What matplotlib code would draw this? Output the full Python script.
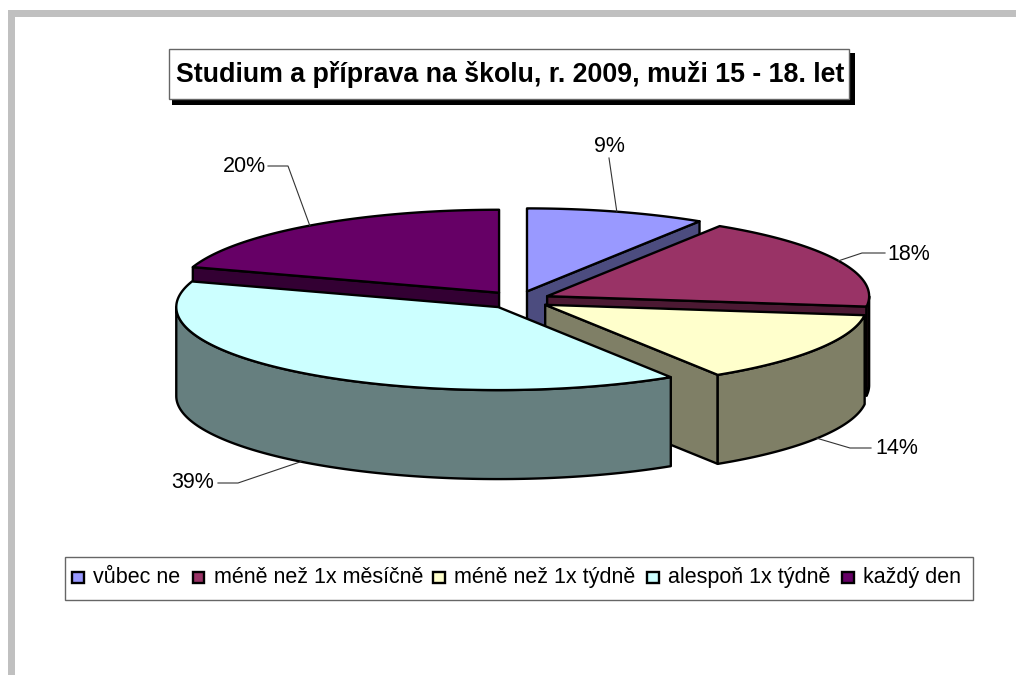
import numpy as np
import matplotlib
matplotlib.use('Agg')
import matplotlib.pyplot as plt
from matplotlib.patches import Rectangle

plt.rcParams['font.family'] = ['Liberation Sans', 'DejaVu Sans']

# data
title = 'Studium a příprava na školu, r. 2009, muži 15 - 18. let'
categories = ['vůbec ne', 'méně než 1x měsíčně', 'méně než 1x týdně', 'alespoň 1x týdně', 'každý den']
values = [9, 18, 14, 39, 20]
top_colors = ['#9999FF', '#993366', '#FFFFCC', '#CCFFFF', '#660066']
side_colors = ['#4C4C7F', '#4C1933', '#7F7F66', '#667F7F', '#330033']

# layout, pixels
cx, cy = 518, 300
rx, ry = 322, 83
depth = 89
explode = 0.1
label_pos = [(609, 152), (909, 260), (897, 454), (193, 488), (244, 172)]
elbow_pos = [(609, 158), (862, 253), (850, 448), (238, 483), (288, 166)]
line_end = [(609, 158), (885, 253), (871, 448), (218, 483), (268, 166)]
legend_x = [72, 192.5, 433, 647, 842]

fig = plt.figure(figsize=(10.16, 6.75), dpi=100)
ax = fig.add_axes([0, 0, 1, 1])
ax.set_xlim(0, 1016)
ax.set_ylim(675, 0)
ax.axis('off')

# grey frame of the sheet
ax.add_patch(Rectangle((8, 10), 1008, 7, fc='#C0C0C0', ec='none'))
ax.add_patch(Rectangle((8, 10), 7, 665, fc='#C0C0C0', ec='none'))

def rim(ox, oy, a):
    # angle runs clockwise from 12 o'clock
    return ox + rx * np.sin(a), oy - ry * np.cos(a)

def face(pts, color, z):
    ax.fill(*zip(*pts), fc=color, ec='black', lw=1.7, joinstyle='round', zorder=z)

total = sum(values)
edges = np.cumsum([0] + values) / total * 2 * np.pi

# back slices first so the front ones cover them
order = [4, 0, 1, 2, 3]
for n, i in enumerate(order):
    a0, a1 = edges[i], edges[i + 1]
    mid = (a0 + a1) / 2
    ox = cx + explode * rx * np.sin(mid)
    oy = cy - explode * ry * 1.08 * np.cos(mid)
    z = 3 + n

    # flat side faces, only those turned to the viewer
    for a, normal in ((a0, a0 - np.pi / 2), (a1, a1 + np.pi / 2)):
        if np.cos(normal) < 0:
            p = rim(ox, oy, a)
            face([(ox, oy), p, (p[0], p[1] + depth), (ox, oy + depth)], side_colors[i], z)

    # outer wall of the near half
    lo, hi = max(a0, np.pi / 2), min(a1, 3 * np.pi / 2)
    if hi > lo:
        t = np.linspace(lo, hi, 120)
        xs, ys = rim(ox, oy, t)
        face(list(zip(xs, ys)) + list(zip(xs[::-1], ys[::-1] + depth)), side_colors[i], z)

    # top
    t = np.linspace(a0, a1, 160)
    xs, ys = rim(ox, oy, t)
    face([(ox, oy)] + list(zip(xs, ys)), top_colors[i], z)

    # leader line and label
    ax_, ay_ = rim(ox, oy, mid)
    if np.cos(mid) < 0:
        ay_ += depth
    ex, ey = elbow_pos[i]
    lx, ly = line_end[i]
    ax.plot([ax_, ex, lx], [ay_, ey, ly], color='#333333', lw=0.8, zorder=20)
    ax.text(*label_pos[i], f'{values[i]}%', fontsize=15.5, ha='center', va='baseline', zorder=21)

# title box with shadow
ax.add_patch(Rectangle((172, 53), 683, 52, fc='black', ec='none', zorder=1))
ax.add_patch(Rectangle((168.5, 48.5), 680, 50.5, fc='white', ec='#666666', lw=1, zorder=2))
ax.text(510.5, 81.5, title, fontsize=19.3, fontweight='bold', ha='center', va='baseline', zorder=3)

# legend
ax.add_patch(Rectangle((65, 557), 908, 42.5, fc='white', ec='#666666', lw=1, zorder=2))
for x, name, color in zip(legend_x, categories, top_colors):
    ax.add_patch(Rectangle((x, 571.5), 11.5, 11.5, fc=color, ec='black', lw=1.7, zorder=3))
    ax.text(x + 21, 583, name, fontsize=15.5, ha='left', va='baseline', zorder=3)

fig.savefig('out.png', dpi=100)
